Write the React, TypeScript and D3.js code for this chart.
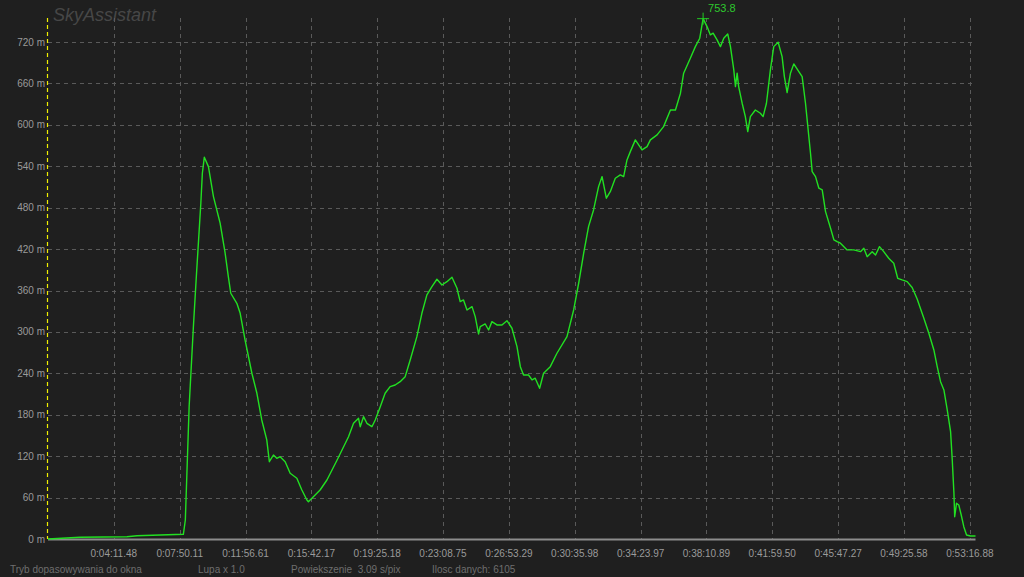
import React from "react";
import * as d3 from "d3";

// sample index (0..6105) and altitude in metres
const sampleIdx = [
  0, 211, 520, 586, 891, 904, 929, 957, 975, 1006, 1016, 1029, 1056, 1089, 1133, 1166, 1187, 1203, 1243, 1265,
  1297, 1342, 1375, 1407, 1440, 1457, 1484, 1506, 1528, 1561, 1594, 1638, 1671, 1704, 1714, 1747, 1791, 1836, 1903, 1978,
  2011, 2044, 2055, 2077, 2099, 2132, 2154, 2187, 2219, 2252, 2285, 2318, 2351, 2384, 2428, 2461, 2494, 2527, 2560, 2593,
  2626, 2659, 2692, 2713, 2735, 2758, 2791, 2812, 2834, 2845, 2878, 2900, 2922, 2955, 2988, 3021, 3054, 3087, 3109, 3130,
  3163, 3186, 3207, 3236, 3262, 3306, 3350, 3416, 3460, 3493, 3526, 3558, 3591, 3624, 3647, 3675, 3701, 3734, 3767, 3789,
  3811, 3833, 3866, 3910, 3943, 3965, 4009, 4052, 4097, 4130, 4163, 4184, 4228, 4261, 4290, 4312, 4338, 4360, 4378, 4404,
  4426, 4448, 4474, 4492, 4514, 4525, 4536, 4546, 4569, 4590, 4606, 4623, 4656, 4689, 4707, 4729, 4755, 4777, 4806, 4832,
  4847, 4865, 4887, 4909, 4942, 4964, 4986, 5008, 5019, 5030, 5052, 5074, 5096, 5118, 5151, 5173, 5194, 5216, 5260, 5304,
  5348, 5370, 5392, 5425, 5447, 5473, 5501, 5534, 5545, 5567, 5593, 5622, 5655, 5688, 5721, 5765, 5798, 5831, 5853, 5875,
  5897, 5919, 5941, 5952, 5963, 5968, 5980, 5995, 6011, 6028, 6046, 6072, 6105,
];
const altitude = [
  0, 2.5, 3.3, 4.8, 6.8, 27.5, 191.7, 307.6, 375.3, 486.4, 529.9, 553.1, 539.5, 496.0, 457.5, 414.0, 380.1, 356.0, 341.5, 327.0,
  288.4, 240.1, 211.1, 172.4, 143.5, 112.0, 121.7, 116.9, 119.3, 112.0, 95.2, 88.0, 71.0, 56.5, 54.0, 61.3, 71.0, 85.5, 114.5, 148.2,
  167.6, 174.9, 162.7, 177.2, 167.6, 162.7, 172.4, 191.7, 211.1, 220.7, 223.1, 227.9, 235.2, 259.4, 293.1, 327.0, 353.6, 365.6, 376.3, 368.0,
  372.8, 379.2, 363.3, 343.9, 346.3, 331.8, 336.6, 322.1, 297.0, 307.6, 311.5, 302.8, 314.9, 310.1, 310.1, 316.3, 305.3, 278.6, 249.7, 237.6,
  237.6, 230.4, 232.9, 218.4, 240.1, 249.7, 269.1, 293.1, 331.8, 370.5, 414.0, 452.5, 476.7, 510.5, 525.0, 493.7, 503.2, 522.6, 527.4, 525.0,
  549.2, 561.2, 578.2, 563.7, 568.4, 578.2, 585.4, 597.4, 621.5, 621.5, 645.8, 674.8, 696.5, 713.3, 725.5, 753.8, 742.3, 730.3, 732.8, 723.1,
  713.3, 725.5, 731.7, 713.3, 679.6, 655.4, 674.8, 655.4, 631.3, 611.9, 590.2, 611.9, 621.5, 616.8, 611.9, 631.3, 679.6, 713.3, 719.7, 698.9,
  669.9, 646.7, 674.8, 688.3, 677.1, 669.9, 631.3, 582.9, 558.9, 532.2, 525.0, 508.2, 505.7, 474.3, 450.2, 433.3, 430.8, 428.5, 418.8, 418.8,
  416.3, 421.2, 409.0, 416.3, 411.5, 423.5, 416.3, 406.7, 404.3, 399.5, 377.7, 375.3, 372.8, 364.4, 347.8, 319.8, 298.1, 273.9, 249.7, 227.9,
  215.9, 186.9, 155.5, 114.5, 66.2, 32.3, 51.7, 49.3, 34.8, 17.8, 5.8, 4.3, 4.3,
];

const yTicks = [0, 60, 120, 180, 240, 300, 360, 420, 480, 540, 600, 660, 720];
const xTickIdx = [433, 867, 1300, 1734, 2167, 2600, 3034, 3467, 3901, 4334, 4767, 5201, 5634, 6068];
const xTickLabels = [
  "0:04:11.48", "0:07:50.11", "0:11:56.61", "0:15:42.17", "0:19:25.18", "0:23:08.75", "0:26:53.29",
  "0:30:35.98", "0:34:23.97", "0:38:10.89", "0:41:59.50", "0:45:47.27", "0:49:25.58", "0:53:16.88",
];
const totalSamples = 6105;
const statusTexts = ["Tryb dopasowywania do okna", "Lupa x 1.0", "Powiekszenie  3.09 s/pix", "Ilosc danych: 6105"];
const statusX = [10, 198, 291, 432];

export default function App() {
  const W = 1024, H = 577;
  const left = 48, right = 975.5, top = 18, bottom = 539;
  const x = d3.scaleLinear().domain([0, totalSamples]).range([left, right]);
  const y = d3.scaleLinear().domain([0, 720]).range([bottom, 42]);
  const pts = sampleIdx.map((s, i) => [s, altitude[i]] as [number, number]);
  const line = d3.line<[number, number]>().x(d => x(d[0])).y(d => y(d[1]));
  const maxI = d3.maxIndex(altitude);
  const px = x(sampleIdx[maxI]);
  const py = y(altitude[maxI]);
  const font = "'Liberation Sans', Arial, sans-serif";

  return (
    <svg width={W} height={H} style={{ position: "absolute", left: 0, top: 0, background: "#1f1f1f" }} fontFamily={font}>
      <rect x={0} y={0} width={W} height={H} fill="#1f1f1f" />
      <text x={53} y={21} fontSize={18} fontStyle="italic" fill="#474747">SkyAssistant</text>
      {yTicks.filter(t => t > 0).map(t => (
        <line key={"h" + t} x1={left} x2={right} y1={Math.round(y(t)) + 0.5} y2={Math.round(y(t)) + 0.5}
          stroke="#5a5a5a" strokeDasharray="4,4" />
      ))}
      {xTickIdx.map(t => (
        <line key={"v" + t} x1={Math.round(x(t)) + 0.5} x2={Math.round(x(t)) + 0.5} y1={top} y2={bottom}
          stroke="#5a5a5a" strokeDasharray="4,4" />
      ))}
      <line x1={47.5} x2={47.5} y1={top} y2={bottom} stroke="#f0f000" strokeWidth={1.2} strokeDasharray="4,3" />
      <line x1={left} x2={right} y1={bottom + 0.5} y2={bottom + 0.5} stroke="#8c8c8c" strokeWidth={2} />
      {yTicks.map(t => (
        <text key={"yl" + t} x={45} y={y(t) + 3.5} fontSize={10} fill="#9a9a9a" textAnchor="end">{t} m</text>
      ))}
      {xTickIdx.map((t, i) => (
        <text key={"xl" + t} x={x(t)} y={557} fontSize={10} fill="#9a9a9a" textAnchor="middle">{xTickLabels[i]}</text>
      ))}
      {statusTexts.map((s, i) => (
        <text key={"st" + i} x={statusX[i]} y={573} fontSize={10} fill="#6e6e6e" xmlSpace="preserve">{s}</text>
      ))}
      <path d={line(pts) || ""} fill="none" stroke="#22e022" strokeWidth={1.4} strokeLinejoin="round" />
      <line x1={px - 6} x2={px + 6} y1={py} y2={py} stroke="#22cc22" />
      <line x1={px} x2={px} y1={py - 6} y2={py + 6} stroke="#22cc22" />
      <text x={px + 5} y={py - 7} fontSize={11} fill="#2ec82e">{altitude[maxI]}</text>
    </svg>
  );
}
